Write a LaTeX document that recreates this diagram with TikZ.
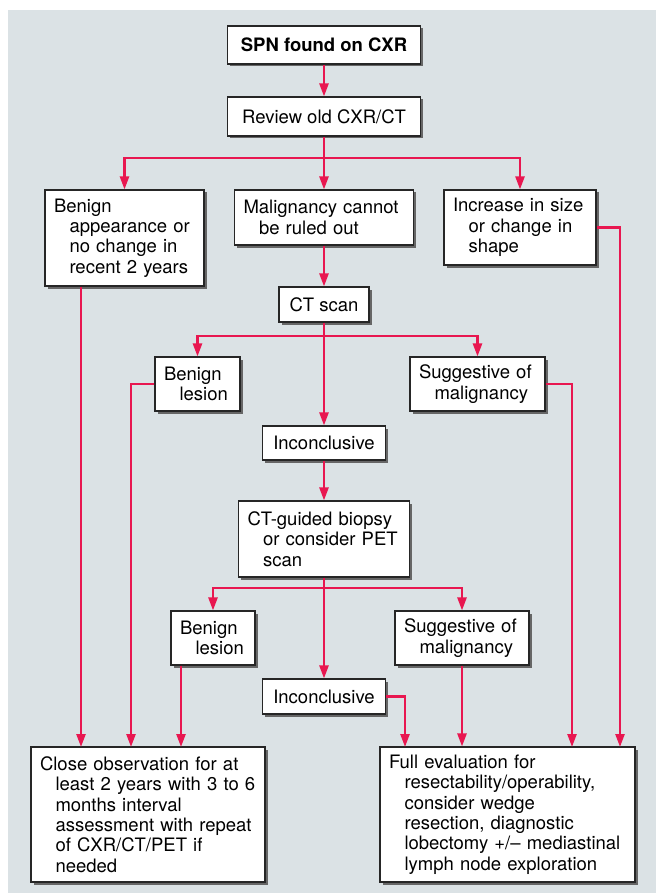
\documentclass[tikz,border=0pt]{standalone}
\usepackage{fontspec}
\setmainfont{TeX Gyre Heros}
\usetikzlibrary{arrows.meta,shadows}
\definecolor{flowred}{RGB}{232,23,80}
\definecolor{panel}{RGB}{219,226,229}

\begin{document}
\begin{tikzpicture}[x=1pt,y=-1pt,
  box/.style={rectangle,draw=black!85,line width=1.1pt,fill=white,
    drop shadow={shadow xshift=2.5pt,shadow yshift=-2.5pt,fill=black!60,opacity=1},
    inner xsep=9pt,inner ysep=0pt,font=\fontsize{18.5}{20.3}\selectfont},
  one/.style={box,align=center,minimum width=#1},
  many/.style={box,align=left,text width=#1,
    execute at begin node={\setlength{\baselineskip}{20.3pt}\hangindent=15.5pt\hangafter=1}},
  arr/.style={draw=flowred,line width=2.4pt,-{Triangle[length=13pt,width=9pt]}}]
\useasboundingbox (0,0) rectangle (656,893);
% Nodule work-up
\fill[panel] (8,10) rectangle (656,893);
\node[one=193pt,minimum height=38pt] (spn) at (324,45) {\textbf{SPN found on CXR}};
\node[one=193pt,minimum height=39pt] (rev) at (324,116.5) {Review old CXR/CT};
\node[many=141pt,minimum height=96pt] (ben) at (124.5,238) {Benign\newline appearance or\newline no change in\newline recent 2 years};
\node[many=161pt,minimum height=55pt] (mal) at (324,217.5) {Malignancy cannot\newline be ruled out};
\node[many=134pt,minimum height=75pt] (inc) at (520,227.5) {Increase in size\newline or change in\newline shape};
\node[one=90pt,minimum height=35pt] (ct) at (324,304.5) {CT scan};
\node[many=67pt,minimum height=54pt] (les1) at (197.5,384) {Benign\newline lesion};
\node[many=117pt,minimum height=54pt] (sug1) at (477.5,384) {Suggestive of\newline malignancy};
\node[one=123pt,minimum height=34pt] (unc1) at (324,443) {Inconclusive};
\node[many=153pt,minimum height=76pt] (bx) at (324,539) {CT-guided biopsy\newline or consider PET\newline scan};
\node[many=66pt,minimum height=54pt] (les2) at (213,638) {Benign\newline lesion};
\node[many=116pt,minimum height=54pt] (sug2) at (462,638) {Suggestive of\newline malignancy};
\node[one=123pt,minimum height=35pt] (unc2) at (324,696.5) {Inconclusive};
\node[many=216pt,minimum height=135pt] (obs) at (148,814.5) {Close observation for at\newline least 2 years with 3 to 6\newline months interval\newline assessment with repeat\newline of CXR/CT/PET if\newline needed};
\node[many=237pt,minimum height=135pt] (full) at (507.5,814.5) {Full evaluation for\newline resectability/operability,\newline consider wedge\newline resection, diagnostic\newline lobectomy +/– mediastinal\newline lymph node exploration};

\coordinate (j1) at (324,158);
\coordinate (j2) at (324,336);
\coordinate (j3) at (324,588);
\coordinate (in1) at (81,747);
\coordinate (in2) at (131,747);
\coordinate (in3) at (181,747);
\coordinate (in4) at (405,747);
\coordinate (in6) at (572,747);
\coordinate (in7) at (620,747);

\draw[arr] (spn) -- (rev);
\draw[arr] (rev) -- (mal);
\draw[arr] (j1) -| (ben);
\draw[arr] (j1) -| (inc);
\draw[arr] (mal) -- (ct);
\draw[arr] (ct) -- (unc1);
\draw[arr] (j2) -| (les1);
\draw[arr] (j2) -| (sug1);
\draw[arr] (unc1) -- (bx);
\draw[arr] (bx) -- (unc2);
\draw[arr] (j3) -| (les2);
\draw[arr] (j3) -| (sug2);
\draw[arr] (in1 |- ben.south) -- (in1);
\draw[arr] (les1) -| (in2);
\draw[arr] (in3 |- les2.south) -- (in3);
\draw[arr] (unc2) -| (in4);
\draw[arr] (sug2) -- (sug2 |- full.north);
\draw[arr] (sug1) -| (in6);
\draw[arr] (inc) -| (in7);
\end{tikzpicture}
\end{document}
